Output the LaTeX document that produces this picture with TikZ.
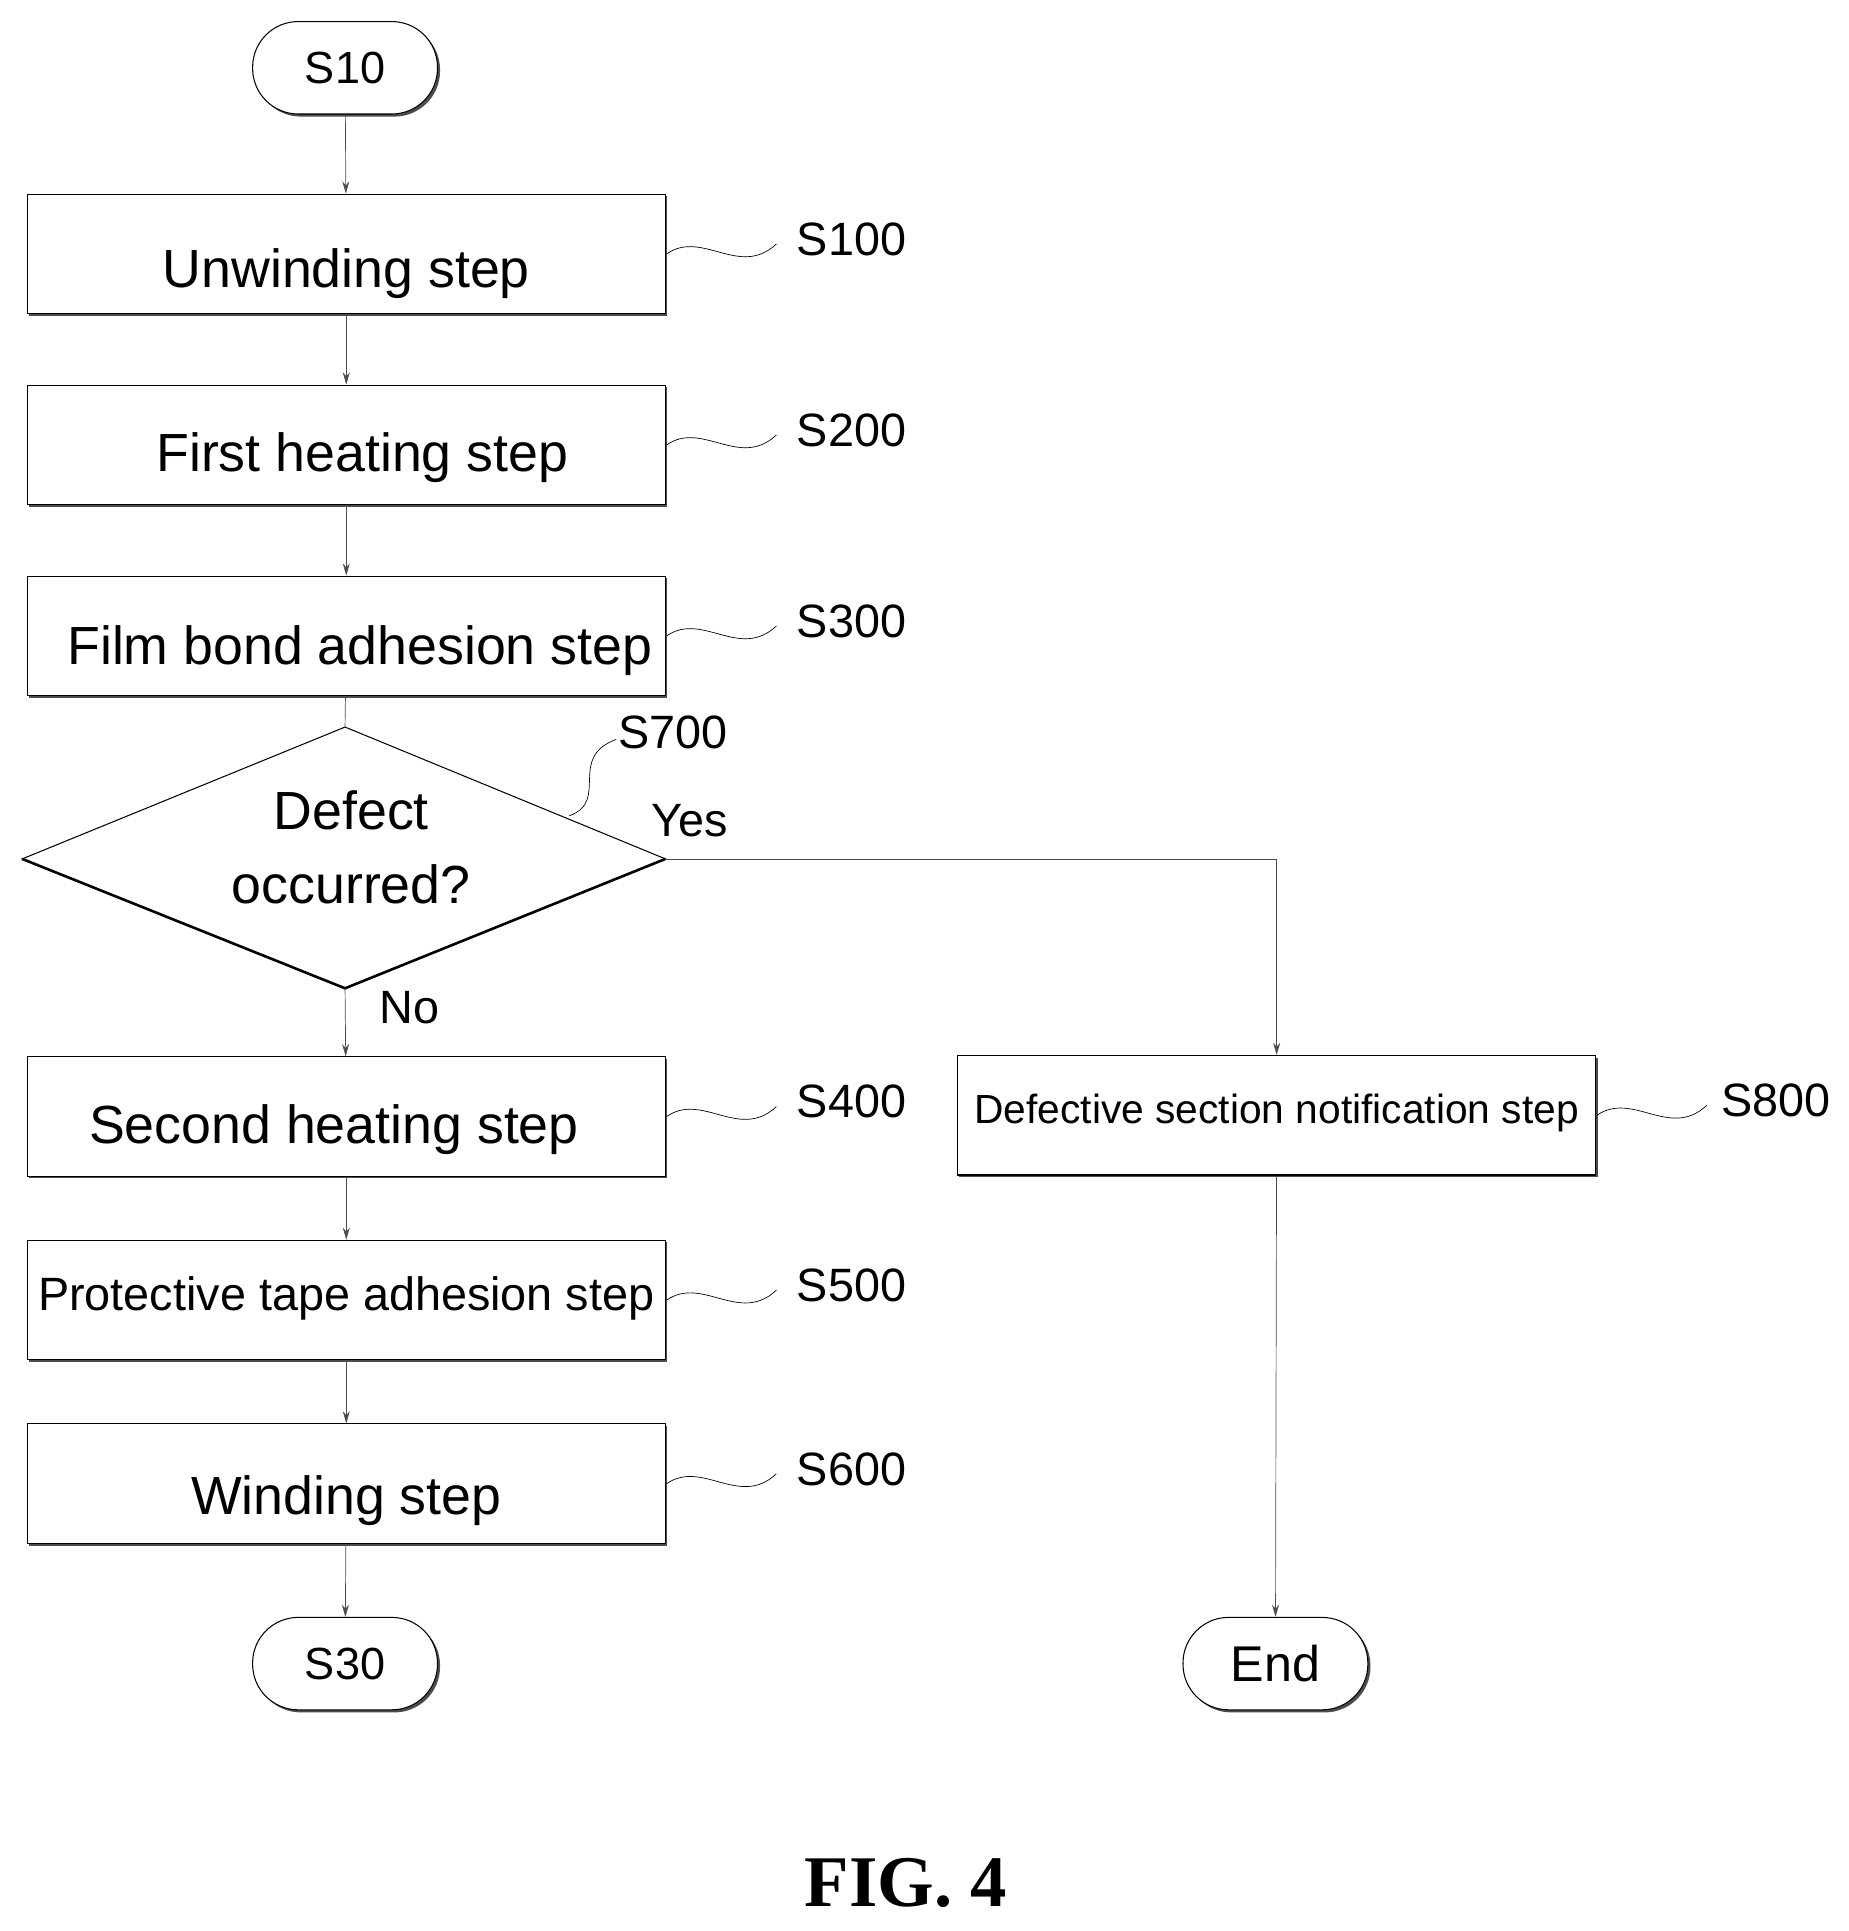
\documentclass[tikz,border=0pt]{standalone}
\usepackage{fontspec}
\setmainfont{Liberation Sans}
\newfontfamily\figfont{Liberation Serif}
\usetikzlibrary{shapes.geometric,arrows.meta,shadows}
\begin{document}
\begin{tikzpicture}[x=0.05cm,y=-0.05cm,
  box/.style={draw,line width=1.2pt,minimum width=518*0.05cm,minimum height=97*0.05cm,inner sep=0pt,
    drop shadow={shadow xshift=2pt,shadow yshift=-2.5pt,opacity=1,fill=black!70}, fill=white},
  term/.style={draw,line width=1.2pt,rounded corners=37*0.05cm,minimum width=150*0.05cm,minimum height=75*0.05cm,
    drop shadow={shadow xshift=3pt,shadow yshift=-3pt,opacity=1,fill=black!70},fill=white,font=\fontsize{52}{60}\selectfont},
  big/.style={font=\fontsize{62}{72}\selectfont},
  lab/.style={font=\fontsize{54}{64}\selectfont},
  arr/.style={-{Stealth[length=14pt,width=8pt]},line width=0.8pt,draw=black!70}]
\useasboundingbox (0,0) rectangle (1500,1567);
\node[term] (s10) at (280,55) {S10};
\node[box,big] (b1) at (281,206) {}; \node[big] at (281,222) {Unwinding step};
\node[box,big] (b2) at (281,361) {}; \node[big] at (294,371) {First heating step};
\node[box,big] (b3) at (281,516) {}; \node[big] at (292,528) {Film bond adhesion step};
\coordinate (dt) at (280,590); \coordinate (dl) at (18,697); \coordinate (dr) at (540,697); \coordinate (db) at (280,802);
\draw[line width=1.2pt] (dt)--(dr)--(db)--(dl)--cycle;
\draw[line width=3pt] (dl)--(db)--(dr);
\node[big] (dq) at (285,693) {\begin{tabular}{c}Defect\\[14pt]occurred?\end{tabular}};
\node[box,big] (b4) at (281,906) {}; \node[big] at (271,917) {Second heating step};
\node[box,big] (b5) at (281,1055) {}; \node[font=\fontsize{54}{60}\selectfont] at (281,1054) {Protective tape adhesion step};
\node[box,big] (b6) at (281,1204) {}; \node[big] at (281,1218) {Winding step};
\node[term] (s30) at (280,1350) {S30};
\node[box] (b8) at (1036,905) {}; \node[font=\fontsize{47}{54}\selectfont] at (1036,903) {Defective section notification step};
\node[term,font=\fontsize{58}{66}\selectfont] (end) at (1035,1350) {End};
% connectors
\draw[arr] (s10) -- (b1);
\draw[arr] (b1) -- (b2);
\draw[arr] (b2) -- (b3);
\draw[line width=0.8pt,draw=black!70] (b3) -- (dt);
\draw[arr] (db) -- (b4);
\draw[arr] (b4) -- (b5);
\draw[arr] (b5) -- (b6);
\draw[arr] (b6) -- (s30);
\draw[arr] (dr) -| (b8.north);
\draw[arr] (b8) -- (end);
\node[lab] at (560,666) {Yes};
\node[lab] at (332,818) {No};
% step labels with wavy lines
\foreach \y/\t in {206/S100,361/S200,516/S300,906/S400,1055/S500,1204/S600}{
  \draw[line width=0.8pt] (541,\y) .. controls (570,\y-20) and (600,\y+20) .. (630,\y-8);
  \node[lab] at (691,\y-12) {\t};
}
\draw[line width=0.8pt] (1296,905) .. controls (1325,885) and (1355,925) .. (1385,897);
\node[lab] at (1441,893) {S800};
\draw[line width=0.8pt] (462,662) .. controls (495,650) and (460,615) .. (500,600);
\node[lab] at (546,594) {S700};
\node[font=\figfont\bfseries\fontsize{84}{90}\selectfont] at (735,1528) {FIG. 4};
\end{tikzpicture}
\end{document}
